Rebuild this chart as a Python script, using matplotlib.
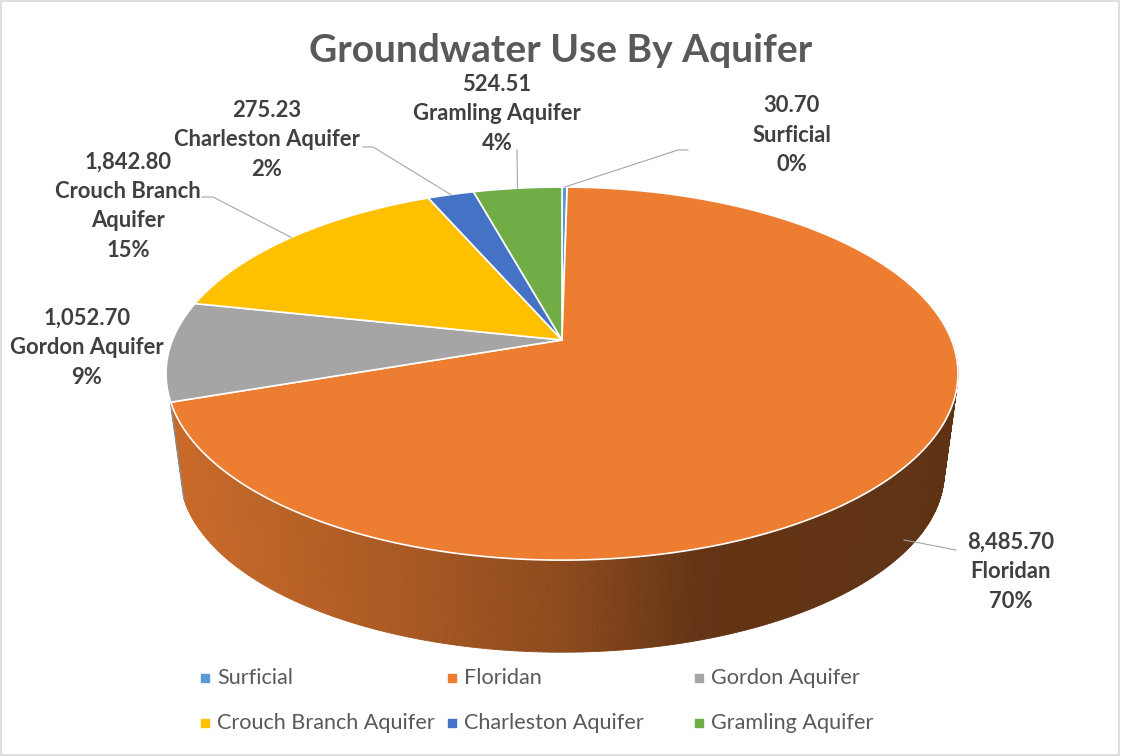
import textwrap
import numpy as np
import matplotlib
matplotlib.use("Agg")
import matplotlib.pyplot as plt
from matplotlib.patches import Polygon, Rectangle
from matplotlib.collections import PolyCollection

# chart data
categories = ["Surficial", "Floridan", "Gordon Aquifer",
              "Crouch Branch Aquifer", "Charleston Aquifer", "Gramling Aquifer"]
values = [30.70, 8485.70, 1052.70, 1842.80, 275.23, 524.51]
colors = ["#5B9BD5", "#ED7D31", "#A5A5A5", "#FFC000", "#4472C4", "#70AD47"]
title = "Groundwater Use By Aquifer"

# layout (pixel coords of the 1121x756 canvas)
W, H = 1121, 756
CX, CY_TOP, CY_BOT = 562, 340, 440
A_TOP, B_TOP = 389.5, 180.5
A_BOT, B_BOT = 376, 174
P = 0.18  # perspective strength

label_pos = [(792, 135), (1011, 572), (87, 348), (128, 206), (267, 140), (497, 114)]
# leader: list of extra points after the slice anchor (None = no leader)
leaders = [[(678, 150), (688, 150)],
           [(956, 550)],
           None,
           [(213, 197), (202, 197)],
           [(373, 147), (363, 147)],
           [(517, 150)]]

FONT = "Lato"
LABEL_COLOR = "#404040"
TEXT_COLOR = "#595959"


def excel_percents(vals):
    # largest remainder so the labels add up to 100
    v = np.asarray(vals, float)
    raw = v / v.sum() * 100
    fl = np.floor(raw).astype(int)
    rest = 100 - fl.sum()
    order = np.argsort(-(raw - fl))
    fl[order[:rest]] += 1
    return fl


def project(theta, bottom=False):
    a, b, cy = (A_BOT, B_BOT, CY_BOT) if bottom else (A_TOP, B_TOP, CY_TOP)
    s = 1.0 / (1.0 + P * np.sin(theta))
    return CX + a * np.cos(theta) * s, cy - b * np.sin(theta) * s


def shade(color, x):
    stops = [170, 420, 567, 700, 960]
    fac = [0.85, 0.70, 0.59, 0.42, 0.40]
    f = np.interp(x, stops, fac)
    rgb = np.array(matplotlib.colors.to_rgb(color))
    return tuple(rgb * f)


fig = plt.figure(figsize=(W / 100, H / 100), dpi=100)
ax = fig.add_axes([0, 0, 1, 1])
ax.set_xlim(0, W)
ax.set_ylim(H, 0)
ax.axis("off")

fracs = np.array(values) / sum(values)
cum = np.concatenate([[0], np.cumsum(fracs)])
t_start = np.pi / 2 - 2 * np.pi * cum[:-1]
t_end = np.pi / 2 - 2 * np.pi * cum[1:]
pcts = excel_percents(values)

# front side of the cylinder
front_lo, front_hi = np.radians(-162), np.radians(5)
quads, qcols = [], []
for i in range(len(values)):
    lo, hi = max(t_end[i], front_lo), min(t_start[i], front_hi)
    if lo >= hi:
        continue
    th = np.linspace(hi, lo, max(int(np.degrees(hi - lo) * 2), 2))
    for t0, t1 in zip(th[:-1], th[1:]):
        x0, y0 = project(t0)
        x1, y1 = project(t1)
        bx0, by0 = project(t0, True)
        bx1, by1 = project(t1, True)
        quads.append([(x0, y0), (x1, y1), (bx1, by1), (bx0, by0)])
        qcols.append(shade(colors[i], (x0 + x1) / 2))
ax.add_collection(PolyCollection(quads, facecolors=qcols, edgecolors=qcols,
                                 linewidths=0.6, zorder=1))

# top face
for i in range(len(values)):
    th = np.linspace(t_start[i], t_end[i], max(int(np.degrees(t_start[i] - t_end[i])), 2) + 1)
    xs, ys = project(th)
    pts = [(CX, CY_TOP)] + list(zip(xs, ys))
    ax.add_patch(Polygon(pts, closed=True, facecolor=colors[i], edgecolor="white",
                         linewidth=1.2, joinstyle="round", zorder=2))

# data labels and leaders
for i, cat in enumerate(categories):
    txt = "{:,.2f}\n{}\n{}%".format(values[i], textwrap.fill(cat, 18), pcts[i])
    lx, ly = label_pos[i]
    ax.text(lx, ly, txt, ha="center", va="center", fontsize=15.8, fontweight="bold",
            color=LABEL_COLOR, family=FONT, linespacing=1.5, zorder=5)
    if leaders[i] is None:
        continue
    mid = (t_start[i] + t_end[i]) / 2
    sx, sy = project(mid)
    if np.sin(mid) < 0:
        bx, by = project(mid, True)
        sx, sy = sx + 0.85 * (bx - sx), sy + 0.85 * (by - sy)
    pts = [(sx, sy)] + leaders[i]
    ax.plot([p[0] for p in pts], [p[1] for p in pts], color="#A6A6A6", lw=0.8, zorder=4)

# title
ax.text(W / 2, 62, title, ha="center", va="baseline", fontsize=28, fontweight="bold",
        color=TEXT_COLOR, family=FONT)

# legend
leg_cols = [205, 452, 699]
leg_rows = [678, 723]
for i, cat in enumerate(categories):
    x = leg_cols[i % 3]
    y = leg_rows[i // 3]
    ax.scatter([x], [y], marker="s", s=26, color=colors[i], zorder=5)
    ax.text(x + 12, y, cat, ha="left", va="center", fontsize=15.6, color=TEXT_COLOR,
            family=FONT)

ax.add_patch(Rectangle((1, 1), W - 3, H - 2, fill=False, edgecolor="#D9D9D9", lw=1.2))

fig.savefig("out.png", dpi=100)
